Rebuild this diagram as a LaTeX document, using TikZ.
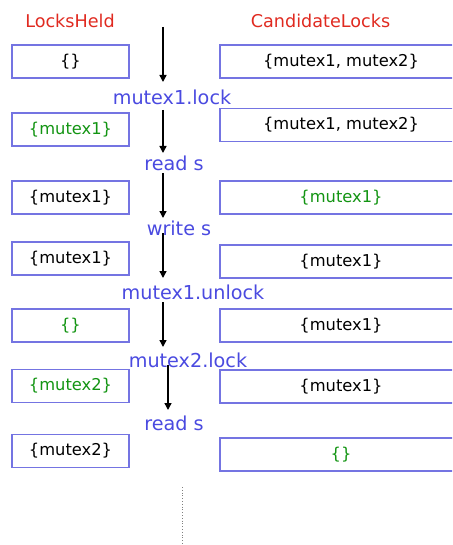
\documentclass[tikz,border=0pt]{standalone}
\usepackage{fontspec}
\setmainfont{DejaVu Sans}
\usetikzlibrary{arrows.meta}
\definecolor{hdrred}{HTML}{E02A20}
\definecolor{opblue}{HTML}{4A4AE0}
\definecolor{boxblue}{HTML}{7474E2}
\definecolor{setgreen}{HTML}{129412}
\tikzset{
  lockbox/.style={draw=boxblue, line width=1.1pt, rectangle, inner sep=0pt,
    minimum height=33pt, font=\fontsize{16.3}{17}\selectfont},
  heldbox/.style={lockbox, minimum width=117pt},
  candbox/.style={lockbox, minimum width=242pt},
  hdr/.style={text=hdrred, inner sep=0pt, font=\fontsize{17.6}{18}\selectfont},
  op/.style={text=opblue, inner sep=0pt, font=\fontsize{19.2}{20}\selectfont},
  step arrow/.style={-{Triangle[length=7pt,width=7pt]}, line width=1.4pt},
  new/.style={text=setgreen}
}
\begin{document}
\begin{tikzpicture}[x=1pt,y=-1pt]
\useasboundingbox (0,0) rectangle (452,545);
\clip (0,0) rectangle (452,545);

% column headers
\node[hdr] (hHeld) at (70,21) {LocksHeld};
\node[hdr] (hCand) at (320.5,21) {CandidateLocks};

% LocksHeld column
\node[heldbox]      (h1) at (70.5,61.5)  {\{\}};
\node[heldbox,new]  (h2) at (70.5,129.5) {\{mutex1\}};
\node[heldbox]      (h3) at (70.5,197.5) {\{mutex1\}};
\node[heldbox]      (h4) at (70.5,258.5) {\{mutex1\}};
\node[heldbox,new]  (h5) at (70.5,325.5) {\{\}};
\node[heldbox,new]  (h6) at (70.5,386)   {\{mutex2\}};
\node[heldbox]      (h7) at (70.5,451)   {\{mutex2\}};

% CandidateLocks column
\node[candbox]      (c1) at (341,61.5)  {\{mutex1, mutex2\}};
\node[candbox]      (c2) at (341,125)   {\{mutex1, mutex2\}};
\node[candbox,new]  (c3) at (341,197.5) {\{mutex1\}};
\node[candbox]      (c4) at (341,261.5) {\{mutex1\}};
\node[candbox]      (c5) at (341,325.5) {\{mutex1\}};
\node[candbox]      (c6) at (341,386.5) {\{mutex1\}};
\node[candbox,new]  (c7) at (341,454.5) {\{\}};

% arrow end points
\coordinate (s1) at (163,27);  \coordinate (e1) at (163,82);
\coordinate (s2) at (163,110); \coordinate (e2) at (163,153);
\coordinate (s3) at (163,173); \coordinate (e3) at (163,218);
\coordinate (s4) at (163,233); \coordinate (e4) at (163,278);
\coordinate (s5) at (163,302); \coordinate (e5) at (163,347);
\coordinate (s6) at (168,365); \coordinate (e6) at (168,410);

\foreach \i in {1,...,6} \draw[step arrow] (s\i) -- (e\i);

% operations
\node[op] (o1) at (172,97)  {mutex1.lock};
\node[op] (o2) at (174,163) {read s};
\node[op] (o3) at (179,228) {write s};
\node[op] (o4) at (193,292) {mutex1.unlock};
\node[op] (o5) at (188,360) {mutex2.lock};
\node[op] (o6) at (174,423) {read s};

% trace continues
\coordinate (d1) at (182,487);
\coordinate (d2) at (182,545);
\draw[gray, dotted, line width=0.8pt] (d1) -- (d2);
\end{tikzpicture}
\end{document}
